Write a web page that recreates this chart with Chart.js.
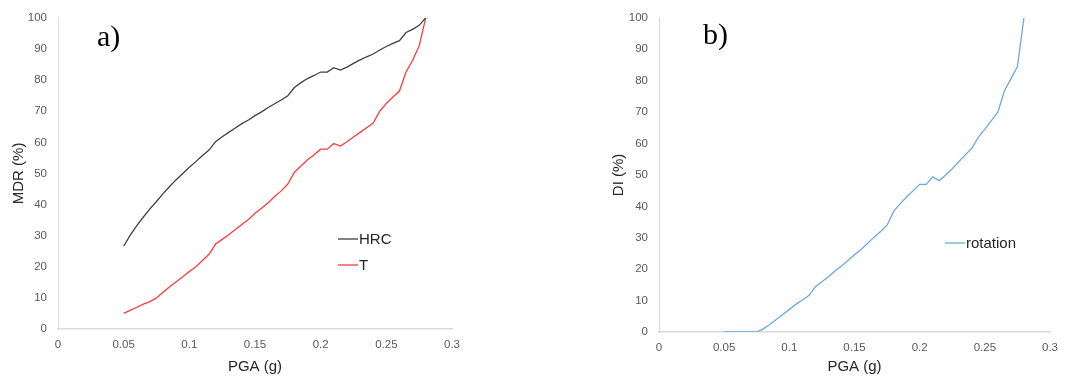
<!DOCTYPE html>
<html><head><meta charset="utf-8">
<script src="https://cdn.jsdelivr.net/npm/chart.js@4/dist/chart.umd.min.js"></script>
<style>
html,body{margin:0;padding:0;background:#fff;width:1067px;height:382px;overflow:hidden;}
.box{position:absolute;top:0;height:382px;}
#boxA{left:0;width:470px;}
#boxB{left:600px;width:467px;}
.tag{position:absolute;font-family:"Liberation Serif","DejaVu Serif",serif;font-size:30px;color:#000;line-height:1;}
</style></head>
<body>
<div class="box" id="boxA"><canvas id="cA"></canvas></div>
<div class="box" id="boxB"><canvas id="cB"></canvas></div>
<div class="tag" style="left:97px;top:21px;">a)</div>
<div class="tag" style="left:703px;top:19px;">b)</div>
<script>
// ---- data ----
const pgaA = [0.05,0.055,0.06,0.065,0.07,0.075,0.08,0.085,0.09,0.095,0.10,0.105,0.11,0.115,0.12,0.125,0.13,0.135,0.14,0.145,0.15,0.155,0.16,0.165,0.17,0.175,0.18,0.185,0.19,0.195,0.20,0.205,0.21,0.215,0.22,0.225,0.23,0.235,0.24,0.245,0.25,0.255,0.26,0.265,0.27,0.275,0.28];
const hrc  = [26.6,30.2,33.2,36.0,38.6,41.0,43.5,45.8,48.0,50.0,52.0,53.8,55.8,57.5,60.2,61.8,63.2,64.6,66.0,67.2,68.6,69.8,71.2,72.4,73.6,75.0,77.6,79.2,80.5,81.5,82.6,82.6,84.0,83.2,84.2,85.4,86.5,87.5,88.4,89.7,90.8,91.8,92.7,95.3,96.3,97.6,100];
const tSer = [5.0,6.0,7.0,8.0,8.8,10.0,11.8,13.6,15.2,16.8,18.5,20.0,22.0,24.0,27.3,28.8,30.3,32.0,33.6,35.2,37.2,38.8,40.6,42.6,44.4,46.6,50.4,52.4,54.4,56.0,57.8,57.8,59.6,58.8,60.2,61.7,63.2,64.7,66.2,70.0,72.5,74.6,76.5,82.6,86.4,91.0,100];
const pgaB = [0.05,0.055,0.06,0.065,0.07,0.075,0.08,0.085,0.09,0.095,0.10,0.105,0.11,0.115,0.12,0.125,0.13,0.135,0.14,0.145,0.15,0.155,0.16,0.165,0.17,0.175,0.18,0.185,0.19,0.195,0.20,0.205,0.21,0.215,0.22,0.225,0.23,0.235,0.24,0.245,0.25,0.255,0.26,0.265,0.27,0.275,0.28];
const rotation = [0,0,0,0,0,0,1.0,2.4,4.0,5.6,7.2,8.8,10.2,11.6,14.4,16.0,17.6,19.4,21.0,22.8,24.6,26.3,28.2,30.2,32.0,34.0,38.4,40.8,43.0,45.0,47.0,47.0,49.4,48.2,50.0,52.0,54.2,56.4,58.5,62.0,64.6,67.3,70.0,76.8,80.6,84.5,100];
const xTicks = [0,0.05,0.1,0.15,0.2,0.25,0.3];
const xTickLabels = ["0","0.05","0.1","0.15","0.2","0.25","0.3"];
const yTicks = [0,10,20,30,40,50,60,70,80,90,100];
const yTickLabels = ["0","10","20","30","40","50","60","70","80","90","100"];

const FONT = '"Liberation Sans", Arial, sans-serif';
function pts(xs, ys){ return xs.map((x,i)=>({x:x, y:ys[i]})); }

const legendPlugin = {
  id:'inLegend',
  afterDraw(chart, args, opts){
    const ctx = chart.ctx;
    ctx.save();
    ctx.font = '15px ' + FONT;
    ctx.textBaseline = 'middle';
    chart.data.datasets.forEach((ds,i)=>{
      const y = opts.y + i*opts.gap;
      ctx.strokeStyle = ds.borderColor; ctx.lineWidth = 1.3;
      ctx.beginPath(); ctx.moveTo(opts.x, y); ctx.lineTo(opts.x+20, y); ctx.stroke();
      ctx.fillStyle = '#262626';
      ctx.fillText(ds.label, opts.x+21, y+1);
    });
    ctx.restore();
  }
};

function makeOpts(yTitle, yW, xH, padR, leg){
  return {
    responsive:true, maintainAspectRatio:false, animation:false,
    layout:{padding:{top:13,right:padR,left:0,bottom:0}},
    plugins:{legend:{display:false}, tooltip:{enabled:false}, inLegend:leg},
    elements:{point:{radius:0}, line:{tension:0, borderWidth:1.3}},
    scales:{
      x:{type:'linear', min:0, max:0.3,
        afterBuildTicks:s=>{ s.ticks = xTicks.map(v=>({value:v})); },
        afterFit:s=>{ s.height = xH; },
        grid:{display:false, drawTicks:false},
        border:{display:true, color:'#d9d9d9', width:1.5},
        ticks:{padding:9, color:'#595959', font:{family:FONT, size:11.5}, maxRotation:0,
          callback:(v,i)=>xTickLabels[i]},
        title:{display:true, text:'PGA (g)', color:'#262626', font:{family:FONT, size:15}, padding:{top:0, bottom:6}}
      },
      y:{type:'linear', min:0, max:100,
        afterBuildTicks:s=>{ s.ticks = yTicks.map(v=>({value:v})); },
        afterFit:s=>{ s.width = yW; },
        grid:{display:false, drawTicks:false},
        border:{display:true, color:'#d9d9d9', width:1},
        ticks:{padding:11, color:'#595959', font:{family:FONT, size:11.5},
          callback:(v,i)=>yTickLabels[i]},
        title:{display:true, text:yTitle, color:'#262626', font:{family:FONT, size:15}, padding:{top:10, bottom:0}}
      }
    }
  };
}

new Chart(document.getElementById('cA'), {
  type:'line',
  data:{datasets:[
    {label:'HRC', data:pts(pgaA,hrc), borderColor:'#404040', fill:false},
    {label:'T', data:pts(pgaA,tSer), borderColor:'#ff3b3b', fill:false}
  ]},
  options:makeOpts('MDR (%)', 58, 53, 18, {x:338, y:239, gap:26}),
  plugins:[legendPlugin]
});
new Chart(document.getElementById('cB'), {
  type:'line',
  data:{datasets:[
    {label:'rotation', data:pts(pgaB,rotation), borderColor:'#6fa8dc', fill:false}
  ]},
  options:makeOpts('DI (%)', 59, 50, 10, {x:345, y:243, gap:26}),
  plugins:[legendPlugin]
});
</script>
</body></html>
